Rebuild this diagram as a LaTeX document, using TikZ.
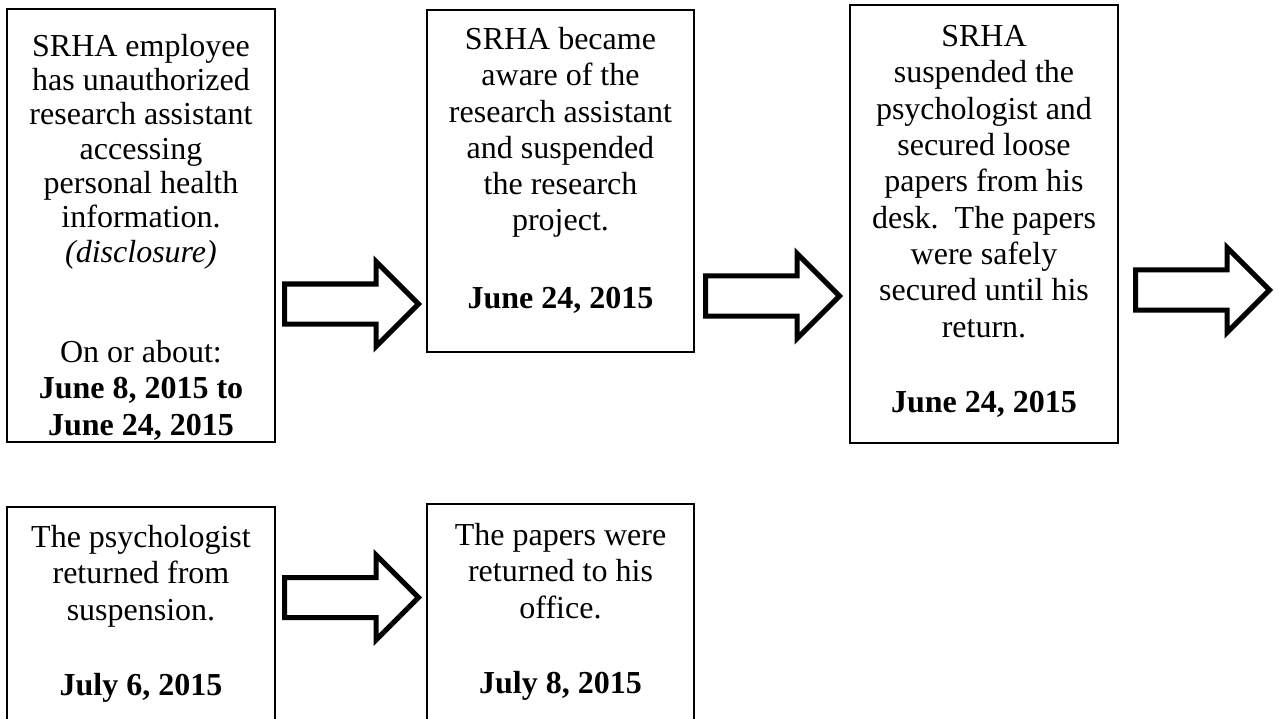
\documentclass[tikz,border=0pt]{standalone}
\usepackage{fontspec}
\setmainfont{Liberation Serif}
\usetikzlibrary{shapes.arrows}
\begin{document}
\begin{tikzpicture}[x=1pt,y=-1pt,
  box/.style={draw,line width=2pt,inner sep=0pt,outer sep=0pt,rectangle},
  txt/.style={align=center,inner sep=0pt,anchor=base,font=\fontsize{32}{36.3}\selectfont},
  txttight/.style={txt,font=\fontsize{32}{34.3}\selectfont},
  bigarrow/.style={single arrow,draw,line width=5pt,fill=white,
    minimum height=134pt,single arrow head extend=22.5pt,
    inner xsep=0pt,inner ysep=17.5pt,outer sep=0pt,anchor=tail}]
\clip (0,0) rectangle (1279,719);
\fill[white] (0,0) rectangle (1279,719);
% boxes
\node[box,minimum width=268pt,minimum height=433pt] (b1) at (141,225.5) {};
\node[box,minimum width=267pt,minimum height=342pt] (b2) at (560.5,181) {};
\node[box,minimum width=268pt,minimum height=438pt] (b3) at (984,224) {};
\node[box,minimum width=268pt,minimum height=240pt] (b4) at (141,627) {};
\node[box,minimum width=267pt,minimum height=240pt] (b5) at (560.5,624) {};
% texts (base anchor = baseline of the last line)
\node[txttight] (t1) at (141,262) {SRHA employee\\has unauthorized\\research assistant\\accessing\\personal health\\information.\\\textit{(disclosure)}};
\node[txt] (t1d) at (141,435) {On or about:\\\textbf{June 8, 2015 to}\\\textbf{June 24, 2015}};
\node[txt] (t2) at (560.5,231) {SRHA became\\aware of the\\research assistant\\and suspended\\the research\\project.};
\node[txt] (t2d) at (560.5,308) {\textbf{June 24, 2015}};
\node[txt] (t3) at (984,337) {SRHA\\suspended the\\psychologist and\\secured loose\\papers from his\\desk.\ \ The papers\\were safely\\secured until his\\return.};
\node[txt] (t3d) at (984,412) {\textbf{June 24, 2015}};
\node[txt] (t4) at (141,620) {The psychologist\\returned from\\suspension.};
\node[txt] (t4d) at (141,695) {\textbf{July 6, 2015}};
\node[txt] (t5) at (560.5,618) {The papers were\\returned to his\\office.};
\node[txt] (t5d) at (560.5,693) {\textbf{July 8, 2015}};
% block arrows
\node[bigarrow] (a1) at (284.5,304) {};
\node[bigarrow] (a2) at (705.5,296) {};
\node[bigarrow] (a3) at (1135.5,290) {};
\node[bigarrow] (a4) at (284.5,597.5) {};
\end{tikzpicture}
\end{document}
